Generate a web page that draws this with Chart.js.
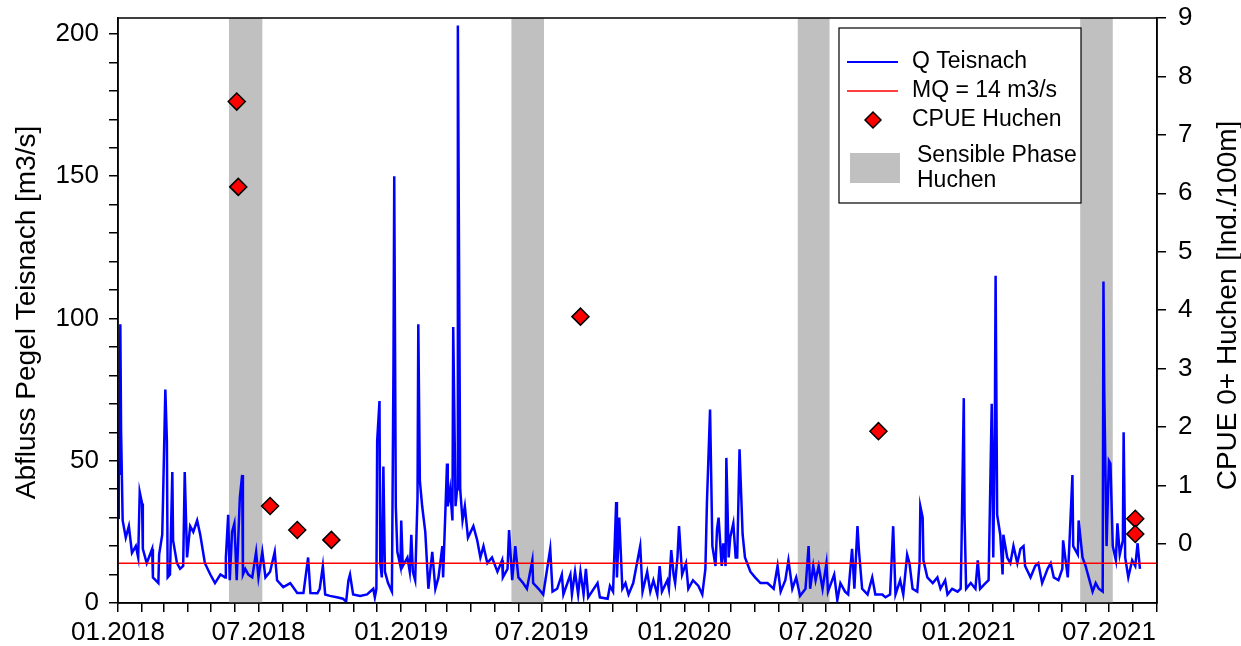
<!DOCTYPE html>
<html lang="de">
<head>
<meta charset="utf-8">
<title>Abfluss Pegel Teisnach und CPUE Huchen</title>
<script src="https://cdn.jsdelivr.net/npm/chart.js@4.4.1/dist/chart.umd.min.js"></script>
<style>
  html, body { margin: 0; padding: 0; background: #fff; }
  #wrap { width: 1241px; height: 646px; }
</style>
</head>
<body>
<div id="wrap"><canvas id="abflussChart" width="1241" height="646"></canvas></div>
<script>
// Tage seit 01.01.2018
const START = Date.UTC(2018, 0, 1);
const DAY = 86400000;
const X_MAX = 1339; // 01.09.2021

// Abfluss Q Teisnach [m3/s]
const qDays = [
    0, 1, 2, 3, 4, 6, 10, 14, 18, 23, 26, 28, 31, 32, 37, 44, 45, 52, 53, 57,
    58, 61, 63, 64, 67, 70, 71, 76, 80, 84, 86, 89, 93, 97, 102, 106, 112, 119, 125, 132,
    138, 139, 142, 144, 147, 150, 153, 157, 160, 161,
    164, 168, 173, 178, 181, 186, 190, 196, 202, 205, 213, 222, 231, 239, 245, 248, 257, 260, 264, 267,
    273, 282, 290, 294, 297, 299, 303, 312, 321, 329,
    331, 333, 334, 337, 338, 340, 342, 344, 348, 353, 355, 356, 358, 360, 364, 365, 367, 373, 376, 378,
    380, 383, 386, 387, 389, 392, 396, 400, 405, 409, 413, 418, 419, 424, 425, 428, 431, 432, 435, 437,
    438, 441, 444, 447, 451, 458, 463, 467, 471, 476, 482, 489, 495,
    496, 502, 504, 508, 512, 516, 522, 527, 534, 535, 542, 548, 557, 560, 566, 572, 574, 583, 585, 589,
    593, 596, 600, 603, 606, 618, 621, 631, 634, 638, 642, 643, 646, 650, 654, 658, 664,
    673, 676, 682, 686, 690, 695, 698, 701, 708, 710, 713, 716, 718, 721, 723, 727, 732, 735, 741, 748,
    753, 757, 759, 763, 766, 770, 772, 774, 778, 780, 783, 784, 787, 789, 793, 796, 798, 801, 805, 808,
    815, 821, 828,
    837, 845, 850, 854, 860, 864, 869, 874, 879, 886, 890, 892, 896, 899, 903, 908, 913, 915, 923, 927,
    931, 937, 941, 946, 949, 953, 955, 959, 966, 972, 976, 985, 989, 995,
    999, 1002, 1008, 1012, 1017, 1020, 1024, 1030, 1033, 1034, 1037, 1038, 1043, 1050, 1056, 1060, 1066, 1069, 1075, 1082,
    1086, 1087, 1090, 1091, 1093, 1099, 1105, 1108, 1111, 1118, 1122, 1126, 1128, 1130, 1131, 1133, 1137, 1140, 1141, 1146,
    1150, 1154, 1159, 1163,
    1167, 1169, 1176, 1182, 1186, 1191, 1198, 1202, 1206, 1212, 1217, 1218, 1224, 1226, 1230, 1231, 1237, 1238, 1243, 1247,
    1251, 1256, 1260, 1264, 1269, 1270, 1271, 1274, 1277, 1279, 1282, 1286, 1288, 1291, 1295, 1296, 1298, 1302, 1307, 1311,
    1314, 1317
];
const qValues = [
    30, 50, 45, 98, 60, 29, 23, 27, 17.6, 20, 16, 39, 35, 19, 14, 19, 9, 7, 17, 24,
    36, 75, 57, 9, 10, 46, 22, 14, 12, 13, 46, 16, 27, 25, 29, 24, 14, 10, 7, 10,
    9, 16, 31, 8, 25, 28, 8, 37, 45, 10,
    12, 10, 9, 18, 9, 18, 9, 11, 18, 8, 5.6, 7, 3.5, 3.5, 16, 3.5, 3.4, 5, 13, 3,
    2.5, 2, 1.5, 0.5, 8, 10, 3, 2.5, 3, 5,
    2, 5, 57, 71, 14, 9, 48, 11, 7, 4, 83, 150, 34, 18, 13, 29, 13, 16, 11, 24,
    11, 8, 37, 98, 43, 34, 25, 5, 18, 5, 9, 20, 9, 49, 34, 40, 29, 97, 34, 40,
    203, 40, 29, 34, 23, 27, 22, 16, 20, 14, 16, 11, 15,
    9, 12, 25.6, 8, 20, 9, 7, 5, 15, 7, 5, 3, 19, 4, 5, 10, 3, 10, 3, 11,
    3, 11, 3, 12, 2, 7, 2, 1.5, 6, 4, 35.5, 9, 30, 5, 7, 3, 7,
    20, 4, 11, 4, 8, 3, 13, 4, 8, 5, 18.6, 10, 7, 16, 27, 10, 14, 5, 8, 6,
    3, 12, 35.5, 68, 20, 13, 26, 30, 13, 21, 13, 51, 16, 23, 28, 16, 16, 54, 24, 16,
    11, 9, 7,
    7, 5, 13, 4, 8, 15, 5, 9, 2.5, 5, 20, 5, 13, 8, 13, 5, 14, 4, 10, 1,
    7, 4, 3, 19, 5, 27, 18, 5, 3, 9, 3, 3, 2, 3,
    27, 3, 8, 3, 17, 14, 5, 4, 14, 34, 30, 15, 9, 7, 9, 5, 8, 3, 5, 4,
    5, 19, 72, 30, 5, 7, 5, 15, 5, 7, 8, 70, 16, 62, 115, 31, 24, 10, 24, 16,
    14, 20, 14, 19,
    20, 13, 9, 13, 14, 7, 12, 14, 9, 8, 12, 22, 9, 20, 45, 20, 17, 29, 16, 13,
    9, 4, 7, 5, 4, 113, 75, 20, 50, 49, 20, 15, 28, 17, 22, 60, 16, 9, 15, 13,
    21, 12
];

// Mittlerer Abfluss
const mqValue = 14;

// CPUE 0+ Huchen [Ind./100m]
const cpueDays = [153, 155, 196, 231, 275, 596, 980, 1311, 1311];
const cpueValues = [7.57, 6.11, 0.65, 0.24, 0.07, 3.89, 1.93, 0.43, 0.17];

// Sensible Phase Huchen (Beginn/Ende in Tagen)
const bandStart = [143, 507, 876, 1240];
const bandEnd = [186, 549, 917, 1282];

// Achsenticks
const yLeftTicks = [0, 10, 20, 30, 40, 50, 60, 70, 80, 90, 100, 110, 120, 130, 140, 150, 160, 170, 180, 190, 200];
const yRightTicks = [0, 1, 2, 3, 4, 5, 6, 7, 8, 9];
const monthTicks = [];
for (let m = 0; ; m++) {
    const t = (Date.UTC(2018, m, 1) - START) / DAY;
    if (t > X_MAX) break;
    monthTicks.push(t);
}

const FONT = '"Liberation Sans", Arial, Helvetica, sans-serif';
Chart.defaults.font.family = FONT;
Chart.defaults.color = '#000';

function monthLabel(value) {
    const d = new Date(START + value * DAY);
    const m = d.getUTCMonth();
    if (m % 6 !== 0) return '';
    return String(m + 1).padStart(2, '0') + '.' + d.getUTCFullYear();
}

// feste Achsenmaße, damit die Zeichenfläche nicht verrutscht
function fixSize(w, h) {
    return function(scale) {
        if (w) scale.width = w;
        if (h) scale.height = h;
        scale.paddingTop = 0;
        scale.paddingBottom = 0;
        scale.paddingLeft = 0;
        scale.paddingRight = 0;
    };
}

// graue Balken hinter den Daten
const phasePlugin = {
    id: 'phaseBands',
    beforeDatasetsDraw(chart) {
        const {ctx, chartArea, scales} = chart;
        ctx.save();
        ctx.fillStyle = '#C0C0C0';
        for (let i = 0; i < bandStart.length; i++) {
            const x1 = scales.x.getPixelForValue(bandStart[i]);
            const x2 = scales.x.getPixelForValue(bandEnd[i]);
            ctx.fillRect(x1, chartArea.top, x2 - x1, chartArea.bottom - chartArea.top);
        }
        ctx.restore();
    }
};

// Rahmen, Achsentitel und Legende
const framePlugin = {
    id: 'frameAndLegend',
    afterDraw(chart) {
        const {ctx, chartArea} = chart;
        ctx.save();
        ctx.strokeStyle = '#000';
        ctx.lineWidth = 1.5;
        ctx.strokeRect(chartArea.left, chartArea.top, chartArea.right - chartArea.left, chartArea.bottom - chartArea.top);

        // Achsentitel (beide von unten nach oben gelesen)
        const midY = (chartArea.top + chartArea.bottom) / 2;
        ctx.fillStyle = '#000';
        ctx.font = '28px ' + FONT;
        ctx.textAlign = 'center';
        ctx.textBaseline = 'middle';
        [[27, 2, 'Abfluss Pegel Teisnach [m3/s]'], [1228, -5, 'CPUE 0+ Huchen [Ind./100m]']].forEach(function(t) {
            ctx.save();
            ctx.translate(t[0], midY + t[1]);
            ctx.rotate(-Math.PI / 2);
            ctx.fillText(t[2], 0, 0);
            ctx.restore();
        });

        // Legende
        const x0 = chartArea.right - 318;
        const y0 = chartArea.top + 10;
        ctx.fillStyle = '#fff';
        ctx.fillRect(x0, y0, 242, 175);
        ctx.lineWidth = 1.2;
        ctx.strokeRect(x0, y0, 242, 175);

        ctx.lineWidth = 2;
        ctx.strokeStyle = '#0000FF';
        ctx.beginPath(); ctx.moveTo(x0 + 8, y0 + 34); ctx.lineTo(x0 + 59, y0 + 34); ctx.stroke();
        ctx.strokeStyle = '#FF0000';
        ctx.lineWidth = 1.5;
        ctx.beginPath(); ctx.moveTo(x0 + 8, y0 + 63); ctx.lineTo(x0 + 59, y0 + 63); ctx.stroke();

        const dx = x0 + 34, dy = y0 + 92, r = 8;
        ctx.beginPath();
        ctx.moveTo(dx - r, dy); ctx.lineTo(dx, dy - r); ctx.lineTo(dx + r, dy); ctx.lineTo(dx, dy + r);
        ctx.closePath();
        ctx.fillStyle = '#FF0000';
        ctx.fill();
        ctx.strokeStyle = '#000';
        ctx.lineWidth = 1.5;
        ctx.stroke();

        ctx.fillStyle = '#C0C0C0';
        ctx.fillRect(x0 + 11, y0 + 125, 50, 30);

        ctx.fillStyle = '#000';
        ctx.font = '23px ' + FONT;
        ctx.textAlign = 'left';
        ctx.fillText('Q Teisnach', x0 + 73, y0 + 34);
        ctx.fillText('MQ = 14 m3/s', x0 + 73, y0 + 63);
        ctx.fillText('CPUE Huchen', x0 + 73, y0 + 92);
        ctx.fillText('Sensible Phase', x0 + 78, y0 + 128);
        ctx.fillText('Huchen', x0 + 78, y0 + 153);
        ctx.restore();
    }
};

const tickGrid = { drawOnChartArea: false, drawTicks: true, tickLength: 9, color: '#000', lineWidth: 1.5 };
const axisBorder = { display: true, color: '#000', width: 1.5 };

new Chart(document.getElementById('abflussChart'), {
    type: 'line',
    data: {
        datasets: [
            {
                label: 'CPUE Huchen',
                type: 'scatter',
                yAxisID: 'y2',
                data: cpueDays.map((d, i) => ({ x: d, y: cpueValues[i] })),
                pointStyle: 'rectRot',
                pointRadius: 8.5,
                backgroundColor: '#FF0000',
                borderColor: '#000',
                borderWidth: 1.5
            },
            {
                label: 'MQ = 14 m3/s',
                yAxisID: 'y',
                data: [{ x: 0, y: mqValue }, { x: X_MAX, y: mqValue }],
                borderColor: '#FF0000',
                borderWidth: 1.5,
                pointRadius: 0
            },
            {
                label: 'Q Teisnach',
                yAxisID: 'y',
                data: qDays.map((d, i) => ({ x: d, y: qValues[i] })),
                borderColor: '#0000FF',
                borderWidth: 2.5,
                pointRadius: 0,
                tension: 0
            }
        ]
    },
    options: {
        responsive: false,
        animation: false,
        devicePixelRatio: 1,
        layout: { padding: { top: 18, left: 0, right: 0, bottom: 0 } },
        plugins: {
            legend: { display: false },
            tooltip: { enabled: false }
        },
        scales: {
            x: {
                type: 'linear',
                min: 0,
                max: X_MAX,
                afterBuildTicks: function(scale) { scale.ticks = monthTicks.map(v => ({ value: v })); },
                afterFit: fixSize(0, 43),
                ticks: { autoSkip: false, maxRotation: 0, padding: 5, font: { size: 26 }, callback: monthLabel },
                grid: tickGrid,
                border: axisBorder
            },
            y: {
                position: 'left',
                min: 0,
                max: 205.6,
                afterBuildTicks: function(scale) { scale.ticks = yLeftTicks.map(v => ({ value: v })); },
                afterFit: fixSize(118, 0),
                ticks: { autoSkip: false, padding: 10, font: { size: 26 }, callback: v => (v % 50 === 0 ? String(v) : '') },
                grid: tickGrid,
                border: axisBorder
            },
            y2: {
                position: 'right',
                min: -1.01,
                max: 9,
                afterBuildTicks: function(scale) { scale.ticks = yRightTicks.map(v => ({ value: v })); },
                afterFit: fixSize(84, 0),
                ticks: { autoSkip: false, padding: 12, font: { size: 26 }, callback: v => String(v) },
                grid: tickGrid,
                border: axisBorder
            }
        }
    },
    plugins: [phasePlugin, framePlugin]
});
</script>
</body>
</html>
